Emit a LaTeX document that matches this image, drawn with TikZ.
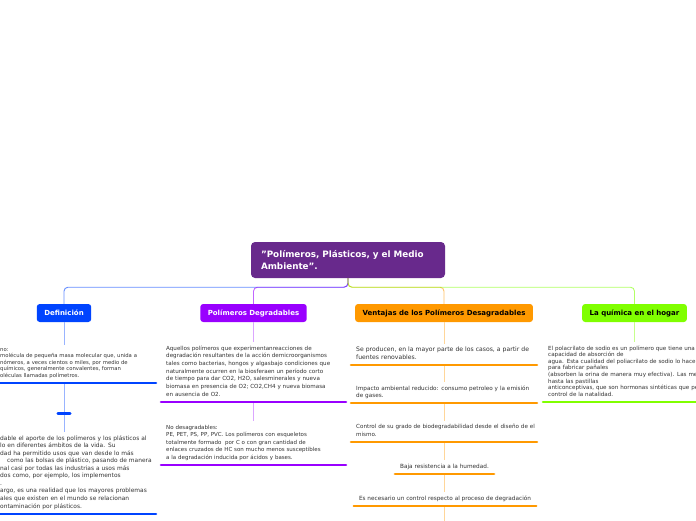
\documentclass[tikz,border=0pt]{standalone}
\usepackage{fontspec}
\setmainfont{DejaVu Sans}
\usetikzlibrary{positioning}
\definecolor{rootpurple}{RGB}{104,41,140}
\definecolor{defblue}{RGB}{0,68,255}
\definecolor{degpurple}{RGB}{153,0,255}
\definecolor{ventorange}{RGB}{255,153,0}
\definecolor{quimgreen}{RGB}{128,255,0}
\definecolor{bodygray}{RGB}{51,51,51}

\tikzset{
  topic/.style={rounded corners=3pt,minimum height=18pt,inner xsep=7.5pt,
        font=\fontsize{7}{8}\selectfont\bfseries},
  subtext/.style={inner xsep=5pt,inner ysep=3.5pt,align=left,text=bodygray,
        execute at end node=\strut},
  fs/.style 2 args={font=\fontsize{#1}{#2}\selectfont},
  underline/.style={line width=2.6pt,line cap=round},
  branch/.style={line width=0.9pt,opacity=0.6,rounded corners=4pt},
  stem/.style={line width=0.9pt},
}

\begin{document}
\begin{tikzpicture}[x=1pt,y=-1pt]
  \useasboundingbox (0,0) rectangle (696,520);
  \fill[white] (0,0) rectangle (696,520);
  \clip (0,0) rectangle (696,520);

  % main topic and the four branches
  \node[fill=rootpurple,text=white,rounded corners=4pt,minimum width=194pt,minimum height=36pt,
        inner xsep=10pt,text width=174pt,align=left,font=\fontsize{8.8}{12}\selectfont\bfseries]
        (root) at (348,260) {\char34 Polímeros, Plásticos, y el Medio\\ Ambiente\char34.};

  \node[topic,fill=defblue,text=white] (def) at (64,313) {Definición};
  \node[topic,fill=degpurple,text=white] (degr) at (253.5,313) {Polímeros Degradables};
  \node[topic,fill=ventorange,text=black] (vent) at (444,313) {Ventajas de los Polímeros Desagradables};
  \node[topic,fill=quimgreen,text=black] (quim) at (634.5,313) {La química en el hogar};

  \foreach \t/\c in {def/defblue,degr/degpurple,vent/ventorange,quim/quimgreen}
    \draw[branch,\c] (root.south) -- ++(0,9) -| (\t.north);

  % Definicion
  \node[subtext,fs={5.3}{6.5},anchor=south west,text width=200pt] (d1) at (-5,383)
    {no:\\
     molécula de pequeña masa molecular que, unida a\\
     nómeros, a veces cientos o miles, por medio de\\
     químicos, generalmente convalentes, forman\\
     oléculas llamadas polímetros.};
  \node[inner sep=0pt,minimum width=12pt] (dmid) at (64,413) {};
  \node[subtext,fs={5.9}{7.55},anchor=south west,text width=200pt] (d2) at (-5,514)
    {dable el aporte de los polímeros y los plásticos al\\
     lo en diferentes ámbitos de la vida. Su\\
     dad ha permitido usos que van desde lo más\\
     \hspace*{7pt}como las bolsas de plástico, pasando de manera\\
     nal casi por todas las industrias a usos más\\
     dos como, por ejemplo, los implementos\\
     .\\
     argo, es una realidad que los mayores problemas\\
     ales que existen en el mundo se relacionan\\
     ontaminación por plásticos.};

  % Polimeros Degradables
  \node[subtext,fs={5.6}{7.65},anchor=south west,text width=220pt] (g1) at (161,402)
    {Aquellos polímeros que experimentanreacciones de\\
     degradación resultantes de la acción demicroorganismos\\
     tales como bacterias, hongos y algasbajo condiciones que\\
     naturalmente ocurren en la biosferaen un período corto\\
     de tiempo para dar CO2, H2O, salesminerales y nueva\\
     biomasa en presencia de O2; CO2,CH4 y nueva biomasa\\
     en ausencia de O2.};
  \node[subtext,fs={5.5}{7.5},anchor=south west,text width=220pt] (g2) at (161,465)
    {No desagradables:\\
     PE, PET, PS, PP, PVC. Los polímeros con esqueletos\\
     totalmente formado \ por C o con gran cantidad de\\
     enlaces cruzados de HC son mucho menos susceptibles\\
     a la degradación inducida por ácidos y bases.};

  % Ventajas
  \node[subtext,fs={6.1}{7.2},anchor=south west,text width=220pt] (v1) at (351,365)
    {Se producen, en la mayor parte de los casos, a partir de\\ fuentes renovables.};
  \node[subtext,fs={5.7}{7},anchor=south west,text width=220pt] (v2) at (351,403)
    {Impacto ambiental reducido: consumo petroleo y la emisión\\ de gases.};
  \node[subtext,fs={5.6}{7.2},anchor=south west,text width=220pt] (v3) at (351,442)
    {Control de su grado de biodegradabilidad desde el diseño de el\\ mismo.};
  \node[subtext,fs={5.75}{7},anchor=south] (v4) at (444.5,474)
    {Baja resistencia a la humedad.};
  \node[subtext,fs={5.75}{7},anchor=south] (v5) at (445,506)
    {Es necesario un control respecto al proceso de degradación};
  \coordinate (vend) at (444,525);

  % La quimica en el hogar
  \node[subtext,fs={5.6}{6.6},anchor=south west,text width=220pt] (q1) at (543,402)
    {El polacrilato de sodio es un polímero que tiene una enorme\\
     capacidad de absorción de\\
     agua. Esta cualidad del poliacrilato de sodio lo hace muy útil\\
     para fabricar pañales\\
     (absorben la orina de manera muy efectiva). Las medicinas,\\
     hasta las pastillas\\
     anticonceptivas, que son hormonas sintéticas que permiten el\\
     control de la natalidad.};

  % stems between the subtopics
  \draw[stem,defblue!40] (def.south) -- (def.south |- d1.north);
  \draw[stem,defblue!40] (def.south |- d1.south) -- ([yshift=-3pt]dmid.center);
  \draw[stem,defblue!40] ([yshift=3pt]dmid.center) -- (def.south |- d2.north);
  \draw[stem,degpurple!35] (degr.south) -- (degr.south |- g1.north);
  \draw[stem,degpurple!35] (degr.south |- g1.south) -- (degr.south |- g2.north);
  \draw[stem,ventorange!40] (vent.south) -- (vent.south |- v1.north);
  \foreach \a/\b in {v1/v2,v2/v3,v3/v4,v4/v5}
    \draw[stem,ventorange!40] (vent.south |- \a.south) -- (vent.south |- \b.north);
  \draw[stem,ventorange!40] (vent.south |- v5.south) -- (vend);
  \draw[stem,quimgreen!45] (quim.south) -- (quim.south |- q1.north);

  % underlines
  \foreach \n/\c/\w in {d1/defblue/161,d2/defblue/161,g1/degpurple/185,g2/degpurple/185,
                        v1/ventorange/186,v2/ventorange/186,v3/ventorange/186,q1/quimgreen/160}
    \draw[underline,\c] (\n.south west) -- ++(\w,0);
  \foreach \n/\c in {dmid/defblue,v4/ventorange,v5/ventorange}
    \draw[underline,\c] (\n.south west) -- (\n.south east);
\end{tikzpicture}
\end{document}
